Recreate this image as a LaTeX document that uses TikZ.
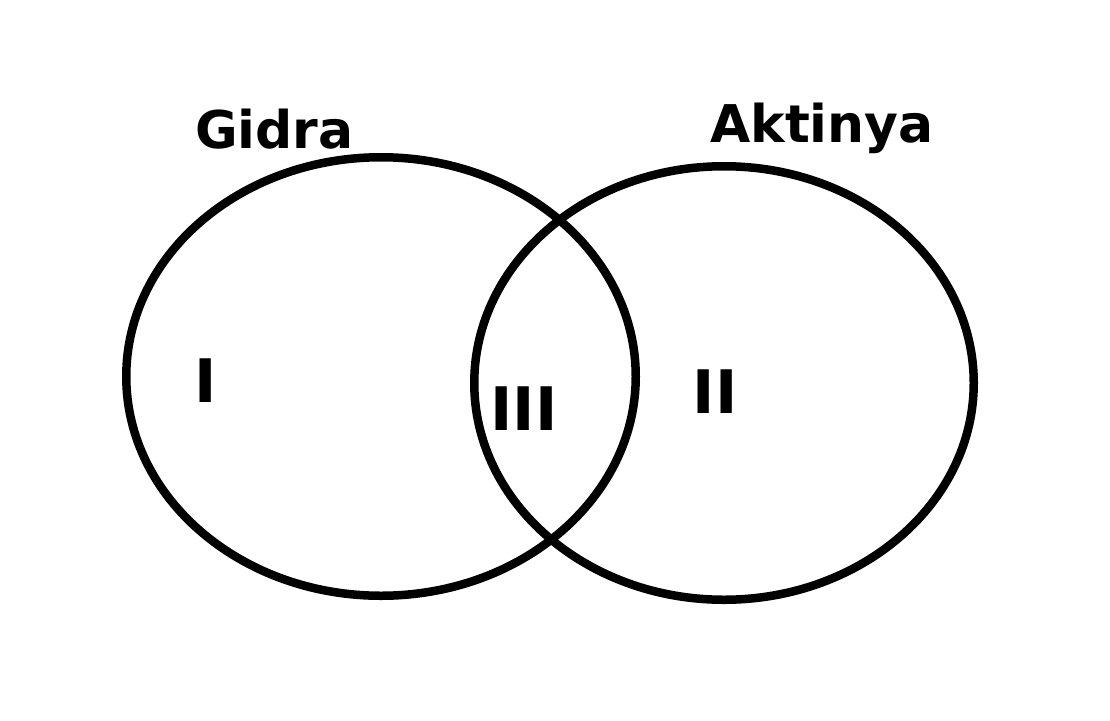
\documentclass[tikz,border=0pt]{standalone}
\usepackage{fontspec}
\setmainfont{DejaVu Sans}
\usetikzlibrary{shapes.geometric, positioning}

\begin{document}
\begin{tikzpicture}[
  x=1pt, y=-1pt,
  set/.style     = {ellipse, draw, line width=8.5pt, inner sep=0pt},
  setname/.style = {anchor=base west, inner sep=0pt, font=\bfseries\fontsize{52}{60}\selectfont},
  region/.style  = {inner sep=0pt, font=\bfseries\fontsize{60}{68}\selectfont},
]
  \useasboundingbox (0,0) rectangle (1110,720);

  \node[set, minimum width=509.5pt, minimum height=438.5pt] (gidra)   at (381,376.5) {};
  \node[set, minimum width=499.5pt, minimum height=433.5pt] (aktinya) at (724,383)   {};

  \node[setname] (gidraname)   at (195,148) {Gidra};
  \node[setname] (aktinyaname) at (710,142) {Aktinya};

  \node[region] (one)   at (206,381) {I};
  \node[region] (three) at (524,409) {III};
  \node[region] (two)   at (715,392) {II};
\end{tikzpicture}
\end{document}
